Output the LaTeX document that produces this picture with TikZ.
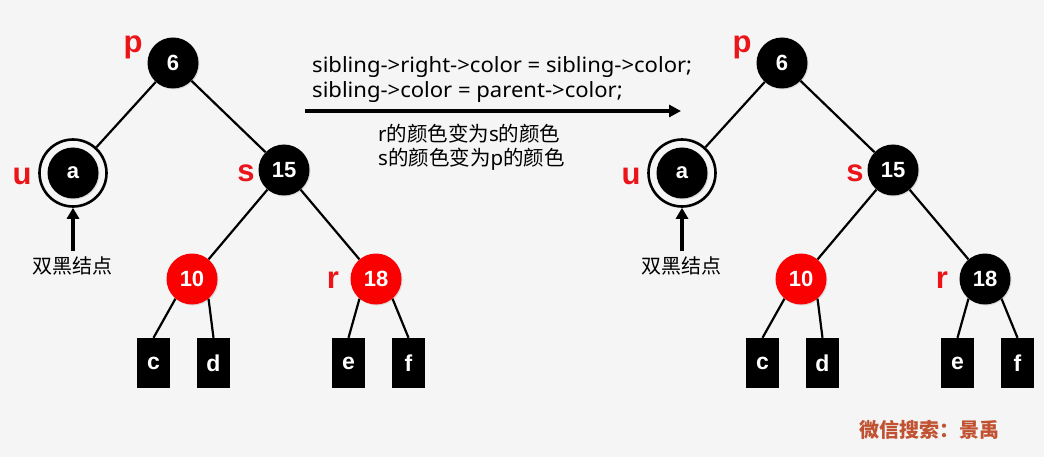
\documentclass[tikz,border=0pt]{standalone}
\usepackage{fontspec}
\setmainfont{Noto Sans}
\newfontfamily\codefont[FakeStretch=1.05]{Noto Sans}
\newfontfamily\nodefont{Liberation Sans}
\newfontfamily\cjk{Noto Sans CJK SC}
\usetikzlibrary{arrows.meta,shadows}
\definecolor{bgc}{RGB}{245,245,245}
\definecolor{nodered}{RGB}{250,0,0}
\definecolor{lblred}{RGB}{235,20,25}
\definecolor{wmc}{RGB}{192,82,50}
\newcommand\drawtree[3]{%
\begin{scope}[xshift=#1]
  \node[ring] (u#2) at (73,173) {};
  \node[blk] (a#2) at (73,173) {a};
  \node[blk] (p#2) at (173,63) {6};
  \node[blk] (s#2) at (284,170) {15};
  \node[rd] (n10#2) at (192,279) {10};
  \node[#3] (n18#2) at (376,279) {18};
  \node[leaf] (c#2) at (153.5,363) {c};
  \node[leaf] (d#2) at (213.5,363) {d};
  \node[leaf] (e#2) at (348.5,363) {e};
  \node[leaf] (f#2) at (408.5,363) {f};
  \node[lbl] (lp#2) at (133,53) {p};
  \node[lbl] (lu#2) at (22,185) {u};
  \node[lbl] (ls#2) at (246,182) {s};
  \node[lbl] (lr#2) at (333,288) {r};
  \draw[edge] (p#2) -- (u#2);
  \draw[edge] (p#2) -- (s#2);
  \draw[edge] (s#2) -- (n10#2);
  \draw[edge] (s#2) -- (n18#2);
  \draw[edge] (n10#2.-130) -- (c#2.north);
  \draw[edge] (n10#2.-50) -- (d#2.north);
  \draw[edge] (n18#2.-130) -- (e#2.north);
  \draw[edge] (n18#2.-50) -- (f#2.north);
  \coordinate (ab#2) at (73,251);
  \draw[line width=3.4pt,-{Triangle[length=11pt,width=12pt]}] (ab#2) -- (u#2.south);
  \node[font=\cjk\fontsize{20}{20}\selectfont] (dl#2) at (72,266) {双黑结点};
\end{scope}}
\begin{document}
\begin{tikzpicture}[x=1pt,y=-1pt,
  every node/.style={inner sep=0pt},
  base/.style={circle, minimum size=51pt, text=white, font=\nodefont\bfseries\fontsize{22}{22}\selectfont,
    drop shadow={opacity=0.22, shadow xshift=1pt, shadow yshift=-1pt}},
  blk/.style={base, fill=black},
  rd/.style={base, fill=nodered},
  ring/.style={circle, minimum size=67pt, draw=black, fill=bgc, line width=2.6pt,
    drop shadow={opacity=0.22, shadow xshift=1pt, shadow yshift=-1pt}},
  leaf/.style={rectangle, fill=black, minimum width=33pt, minimum height=50pt, text=white,
    font=\nodefont\bfseries\fontsize{23}{23}\selectfont},
  lbl/.style={text=lblred, font=\nodefont\bfseries\fontsize{31}{31}\selectfont, anchor=base},
  edge/.style={line width=2.2pt},
  code/.style={anchor=base west, font=\codefont\fontsize{21}{21}\selectfont},
  note/.style={anchor=west, font=\fontsize{20.5}{20.5}\selectfont},
]
\fill[bgc] (0,0) rectangle (1044,457);
\useasboundingbox (0,0) rectangle (1044,457);
\drawtree{0pt}{L}{rd}
\drawtree{609pt}{R}{blk}
\node[code] (t1) at (312,73) {sibling->right->color = sibling->color;};
\node[code] (t2) at (312,98) {sibling->color = parent->color;};
\coordinate (as) at (305,111);
\coordinate (ae) at (681,111);
\draw[line width=3.5pt,-{Triangle[length=12pt,width=12pt]}] (as) -- (ae);
\node[note] (t3) at (378,134) {r{\cjk 的颜色变为}s{\cjk 的颜色}};
\node[note] (t4) at (378,159) {s{\cjk 的颜色变为}p{\cjk 的颜色}};
\node[text=wmc, font=\cjk\bfseries\fontsize{20}{20}\selectfont] (wm) at (929,430) {微信搜索：景禹};
\end{tikzpicture}
\end{document}
